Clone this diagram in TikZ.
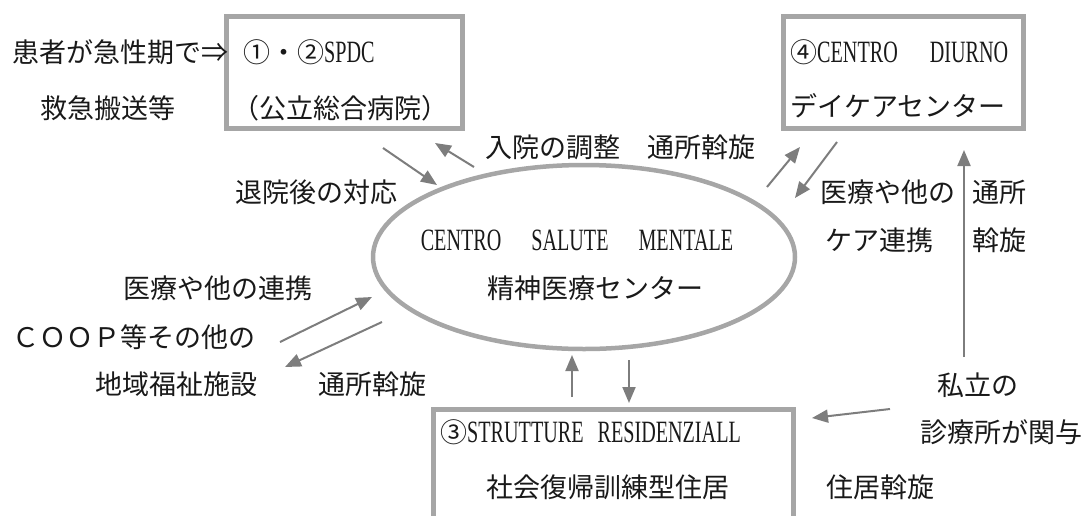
\documentclass[tikz,border=0pt]{standalone}
\usepackage{fontspec}
\setmainfont{Liberation Serif}[FakeStretch=0.65]
\newfontfamily\cjk{Noto Sans CJK JP}
\usetikzlibrary{shapes.geometric,arrows.meta}
\definecolor{boxgray}{RGB}{166,166,166}
\definecolor{arrgray}{RGB}{125,125,125}
\definecolor{txt}{RGB}{25,25,25}
\newcommand\latn[1]{{\rmfamily\fontsize{31}{34}\selectfont #1}}
\begin{document}
\begin{tikzpicture}[x=1pt,y=-1pt,
  lbl/.style={inner sep=0pt, anchor=west, text=txt, font=\fontsize{27}{30}\selectfont\cjk},
  boxnode/.style={draw=boxgray, line width=5pt, anchor=north west, inner sep=0pt},
  arr/.style={draw=arrgray, line width=2pt, -{Triangle[length=16pt,width=13pt]}}]
\useasboundingbox (0,0) rectangle (1087,515);
\clip (0,0) rectangle (1087,515);

% boxes
\node[boxnode, minimum width=236pt, minimum height=112pt] (spdc) at (224,14) {};
\node[boxnode, minimum width=240pt, minimum height=112pt] (diurno) at (781,14) {};
\node[boxnode, minimum width=360pt, minimum height=160pt] (resid) at (431,407) {};
\node[ellipse, draw=boxgray, line width=4.5pt, minimum width=422pt, minimum height=184pt, inner sep=0pt] (csm) at (584,257) {};

% texts
\node[lbl] (t1) at (12,52) {患者が急性期で⇒};
\node[lbl] (t2) at (40,108) {救急搬送等};
\node[lbl] (t3) at (243,52) {①・②\latn{SPDC}};
\node[lbl] (t4) at (232,108) {（公立総合病院）};
\node[lbl] (t5) at (790,52) {④\latn{CENTRO\hspace{32pt}DIURNO}};
\node[lbl] (t6) at (790,106) {デイケアセンター};
\node[lbl] (t7) at (485,147) {入院の調整　通所斡旋};
\node[lbl] (t8) at (235,192) {退院後の対応};
\node[lbl, anchor=center] (t9) at (577,240) {\latn{CENTRO\hspace{30pt}SALUTE\hspace{30pt}MENTALE}};
\node[lbl] (t10) at (487,288) {精神医療センター};
\node[lbl] (t11) at (820,192) {医療や他の};
\node[lbl] (t12) at (972,192) {通所};
\node[lbl] (t13) at (825,240) {ケア連携};
\node[lbl] (t14) at (972,240) {斡旋};
\node[lbl] (t15) at (123,288) {医療や他の連携};
\node[lbl] (t16) at (12,337) {ＣＯＯＰ等その他の};
\node[lbl] (t17) at (95,384) {地域福祉施設};
\node[lbl] (t18) at (318,384) {通所斡旋};
\node[lbl] (t19) at (937,385) {私立の};
\node[lbl] (t20) at (920,432) {診療所が関与};
\node[lbl] (t21) at (440,432) {③\latn{STRUTTURE\hspace{14pt}RESIDENZIALL}};
\node[lbl] (t22) at (486,487) {社会復帰訓練型住居};
\node[lbl] (t23) at (826,487) {住居斡旋};

% arrow end points
\coordinate (a1s) at (383,148); \coordinate (a1e) at (437,185);
\coordinate (a2s) at (474,167); \coordinate (a2e) at (435,143);
\coordinate (a3s) at (767,187); \coordinate (a3e) at (800,147);
\coordinate (a4s) at (837,142); \coordinate (a4e) at (795,198);
\coordinate (a5s) at (964,357); \coordinate (a5e) at (964,150);
\coordinate (a6s) at (280,342); \coordinate (a6e) at (372,297);
\coordinate (a7s) at (382,322); \coordinate (a7e) at (285,367);
\coordinate (a8s) at (572,397); \coordinate (a8e) at (572,355);
\coordinate (a9s) at (629,360); \coordinate (a9e) at (629,403);
\coordinate (a10s) at (890,409); \coordinate (a10e) at (812,418);

\foreach \i in {1,...,10} {\draw[arr] (a\i s) -- (a\i e);}
\end{tikzpicture}
\end{document}
